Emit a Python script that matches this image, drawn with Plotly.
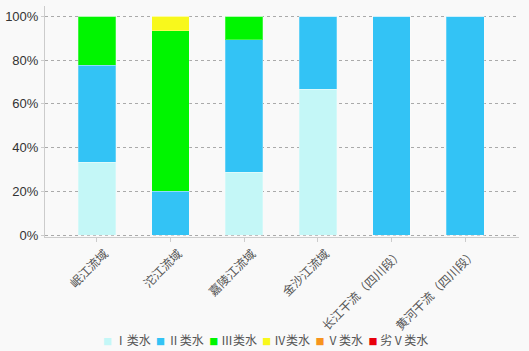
import plotly.graph_objects as go

categories = ["岷江流域", "沱江流域", "嘉陵江流域", "金沙江流域", "长江干流（四川段）", "黄河干流（四川段）"]
series_names = ["Ⅰ类水", "Ⅱ类水", "Ⅲ类水", "Ⅳ类水", "Ⅴ类水", "劣Ⅴ类水"]
series_colors = ["#c4f7f7", "#33c3f5", "#00f500", "#f8f81c", "#f7941d", "#e8000b"]
class_I = [33.3, 0, 28.6, 66.7, 0, 0]
class_II = [44.4, 20.0, 60.7, 33.3, 100, 100]
class_III = [22.3, 73.3, 10.7, 0, 0, 0]
class_IV = [0, 6.7, 0, 0, 0, 0]
class_V = [0, 0, 0, 0, 0, 0]
class_VI = [0, 0, 0, 0, 0, 0]
series_values = [class_I, class_II, class_III, class_IV, class_V, class_VI]
y_ticks = [0, 20, 40, 60, 80, 100]
y_tick_labels = ["0%", "20%", "40%", "60%", "80%", "100%"]

fig = go.Figure()
for name, color, vals in zip(series_names, series_colors, series_values):
    fig.add_trace(go.Bar(
        x=categories, y=vals, name=name, showlegend=False,
        marker=dict(color=color, line=dict(color="rgba(255,255,255,0.25)", width=1)),
    ))

legend_text = "  ".join(
    f"<span style='color:{c};font-size:9px'>■</span> {n}" for n, c in zip(series_names, series_colors)
)
fig.add_annotation(
    text=legend_text, x=0.465, y=-0.445, xref="paper", yref="paper",
    xanchor="center", yanchor="middle", showarrow=False,
    font=dict(family="Noto Sans CJK SC", size=12, color="#555555"),
)

fig.update_layout(
    width=529, height=351,
    margin=dict(l=45, r=10, t=6, b=114),
    paper_bgcolor="#f9f9f9", plot_bgcolor="#f9f9f9",
    barmode="stack", bargap=0.49,
    showlegend=False,
    xaxis=dict(
        range=[-0.704, 5.73], tickangle=-45,
        showline=True, linecolor="#cccccc", linewidth=1,
        ticks="outside", ticklen=4, tickcolor="#cccccc",
        showgrid=False,
        ticklabelshift=8, ticklabelstandoff=0,
        tickfont=dict(family="Noto Sans CJK SC", size=12, color="#555555"),
    ),
    yaxis=dict(
        range=[-0.91, 104.7], tickvals=y_ticks, ticktext=y_tick_labels,
        showline=True, linecolor="#cccccc", linewidth=1,
        ticks="outside", ticklen=3, tickcolor="#cccccc",
        showgrid=True, gridcolor="#aaaaaa", griddash="dot", gridwidth=1,
        zeroline=False,
        tickfont=dict(family="Liberation Sans", size=13, color="#333333"),
    ),
)

fig.write_html("out.html")
